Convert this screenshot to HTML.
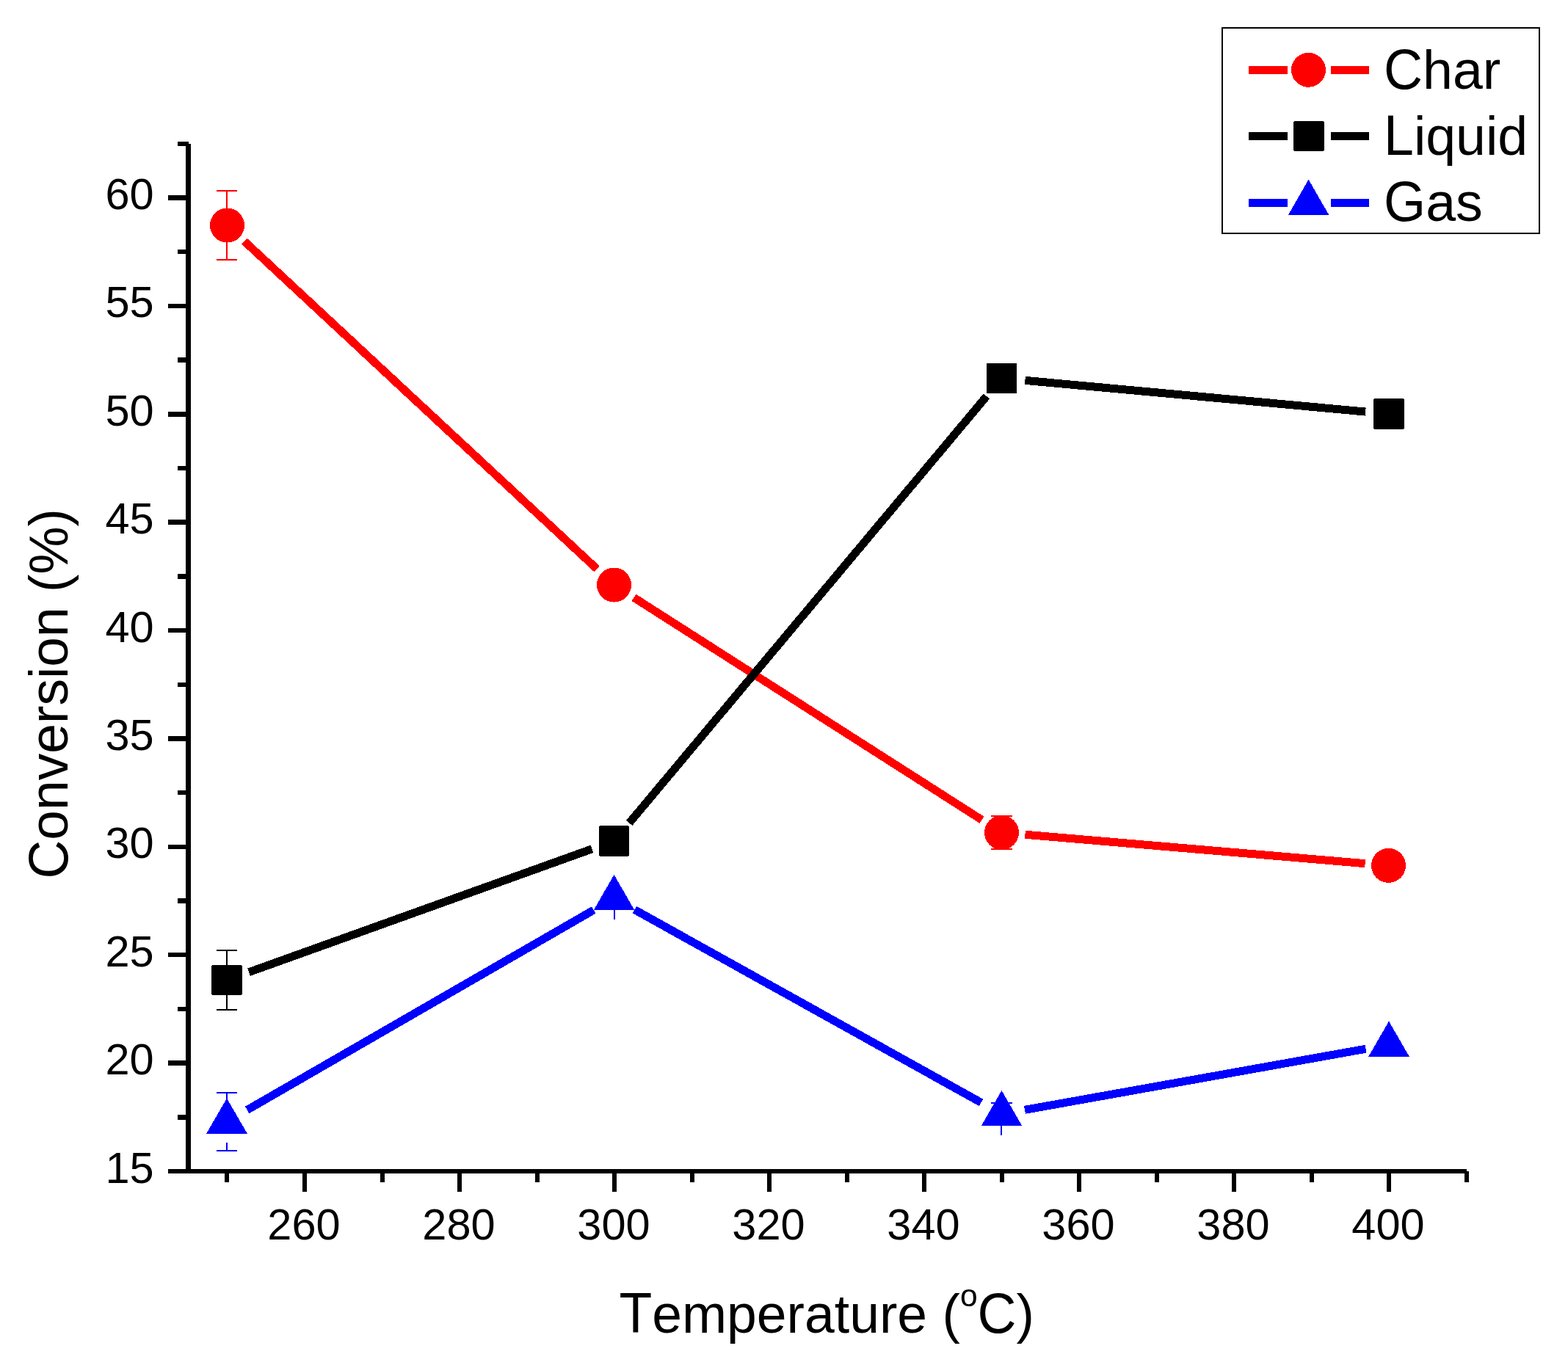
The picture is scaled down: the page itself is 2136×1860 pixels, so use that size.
<!DOCTYPE html>
<html><head><meta charset="utf-8"><style>html,body{margin:0;padding:0;background:#fff;}svg{display:block;} rect,line,polygon,circle{shape-rendering:crispEdges;} text{font-kerning:none;font-variant-ligatures:none;}</style></head>
<body>
<svg width="2136" height="1860" viewBox="0 0 2136 1860">
<rect x="0" y="0" width="2136" height="1860" fill="#fff"/>
<line x1="332.94" y1="328.79" x2="813.06" y2="775.21" stroke="#ff0000" stroke-width="11"/>
<line x1="863.46" y1="814.23" x2="1337.54" y2="1117.27" stroke="#ff0000" stroke-width="11"/>
<line x1="1396.38" y1="1137.22" x2="1859.62" y2="1176.68" stroke="#ff0000" stroke-width="11"/>
<line x1="339.12" y1="1324.68" x2="806.48" y2="1156.82" stroke="#000000" stroke-width="11"/>
<line x1="857.14" y1="1121.46" x2="1343.96" y2="539.94" stroke="#000000" stroke-width="11"/>
<line x1="1396.37" y1="518.34" x2="1860.13" y2="561.06" stroke="#000000" stroke-width="11"/>
<line x1="336.71" y1="1512.50" x2="808.79" y2="1240.00" stroke="#0000ff" stroke-width="11"/>
<line x1="864.46" y1="1239.57" x2="1336.54" y2="1502.43" stroke="#0000ff" stroke-width="11"/>
<line x1="1396.00" y1="1512.36" x2="1860.50" y2="1429.24" stroke="#0000ff" stroke-width="11"/>
<rect x="308" y="260.00" width="2" height="94.00" fill="#ff0000"/>
<rect x="295.00" y="259.00" width="28" height="2" fill="#ff0000"/>
<rect x="295.00" y="353.00" width="28" height="2" fill="#ff0000"/>
<rect x="1363" y="1112.00" width="2" height="45.00" fill="#ff0000"/>
<rect x="1350.00" y="1111.00" width="29" height="2" fill="#ff0000"/>
<rect x="1350.00" y="1156.00" width="29" height="2" fill="#ff0000"/>
<rect x="308" y="1295.00" width="2" height="81.00" fill="#000000"/>
<rect x="295.00" y="1294.00" width="28" height="2" fill="#000000"/>
<rect x="295.00" y="1375.00" width="28" height="2" fill="#000000"/>
<rect x="308" y="1489.00" width="2" height="41.00" fill="#0000ff"/>
<rect x="295.00" y="1488.00" width="28" height="2" fill="#0000ff"/>
<rect x="308" y="1557.00" width="2" height="11.00" fill="#0000ff"/>
<rect x="295.00" y="1567.00" width="28" height="2" fill="#0000ff"/>
<rect x="836" y="1230.00" width="2" height="23.00" fill="#0000ff"/>
<rect x="1363" y="1503.00" width="2" height="44.00" fill="#0000ff"/>
<rect x="1350.00" y="1502.00" width="29" height="2" fill="#0000ff"/>
<circle cx="309.5" cy="307" r="23.5" fill="#ff0000"/>
<circle cx="836.5" cy="797" r="23.5" fill="#ff0000"/>
<circle cx="1364.5" cy="1134.5" r="23.5" fill="#ff0000"/>
<circle cx="1891.5" cy="1179.4" r="23.5" fill="#ff0000"/>
<rect x="288.25" y="1314.75" width="41.5" height="41.5" rx="1.8" fill="#000000"/>
<rect x="815.85" y="1125.25" width="41.5" height="41.5" rx="1.8" fill="#000000"/>
<rect x="1343.75" y="494.65" width="41.5" height="41.5" rx="0" fill="#000000"/>
<rect x="1871.25" y="543.25" width="41.5" height="41.5" rx="1.8" fill="#000000"/>
<polygon points="309.00,1496.50 336.75,1544.50 281.25,1544.50" fill="#0000ff"/>
<polygon points="836.50,1192.00 864.25,1240.00 808.75,1240.00" fill="#0000ff"/>
<polygon points="1364.50,1486.00 1392.25,1534.00 1336.75,1534.00" fill="#0000ff"/>
<polygon points="1892.00,1391.60 1919.75,1439.60 1864.25,1439.60" fill="#0000ff"/>
<rect x="253" y="196" width="7" height="1403" fill="#000"/>
<rect x="229" y="1593" width="1769" height="6" fill="#000"/>
<rect x="229" y="1592.75" width="26" height="6.5" fill="#000"/>
<rect x="242" y="1519.06" width="13" height="6.5" fill="#000"/>
<rect x="229" y="1445.36" width="26" height="6.5" fill="#000"/>
<rect x="242" y="1371.66" width="13" height="6.5" fill="#000"/>
<rect x="229" y="1297.97" width="26" height="6.5" fill="#000"/>
<rect x="242" y="1224.28" width="13" height="6.5" fill="#000"/>
<rect x="229" y="1150.58" width="26" height="6.5" fill="#000"/>
<rect x="242" y="1076.88" width="13" height="6.5" fill="#000"/>
<rect x="229" y="1003.19" width="26" height="6.5" fill="#000"/>
<rect x="242" y="929.50" width="13" height="6.5" fill="#000"/>
<rect x="229" y="855.80" width="26" height="6.5" fill="#000"/>
<rect x="242" y="782.10" width="13" height="6.5" fill="#000"/>
<rect x="229" y="708.41" width="26" height="6.5" fill="#000"/>
<rect x="242" y="634.71" width="13" height="6.5" fill="#000"/>
<rect x="229" y="561.02" width="26" height="6.5" fill="#000"/>
<rect x="242" y="487.33" width="13" height="6.5" fill="#000"/>
<rect x="229" y="413.63" width="26" height="6.5" fill="#000"/>
<rect x="242" y="339.93" width="13" height="6.5" fill="#000"/>
<rect x="229" y="266.24" width="26" height="6.5" fill="#000"/>
<rect x="242" y="193" width="15" height="6" fill="#000"/>
<rect x="306.00" y="1596" width="6" height="15" fill="#000"/>
<rect x="412.00" y="1596" width="6" height="28" fill="#000"/>
<rect x="517.50" y="1596" width="6" height="15" fill="#000"/>
<rect x="623.00" y="1596" width="6" height="28" fill="#000"/>
<rect x="728.50" y="1596" width="6" height="15" fill="#000"/>
<rect x="834.00" y="1596" width="6" height="28" fill="#000"/>
<rect x="939.50" y="1596" width="6" height="15" fill="#000"/>
<rect x="1045.00" y="1596" width="6" height="28" fill="#000"/>
<rect x="1150.50" y="1596" width="6" height="15" fill="#000"/>
<rect x="1256.00" y="1596" width="6" height="28" fill="#000"/>
<rect x="1361.50" y="1596" width="6" height="15" fill="#000"/>
<rect x="1467.00" y="1596" width="6" height="28" fill="#000"/>
<rect x="1572.50" y="1596" width="6" height="15" fill="#000"/>
<rect x="1678.00" y="1596" width="6" height="28" fill="#000"/>
<rect x="1783.50" y="1596" width="6" height="15" fill="#000"/>
<rect x="1889.00" y="1596" width="6" height="28" fill="#000"/>
<rect x="1994.50" y="1596" width="6" height="15" fill="#000"/>
<text x="209.6" y="1611.60" font-family="Liberation Sans, Arial, sans-serif" font-size="59.5" text-anchor="end">15</text>
<text x="209.6" y="1464.21" font-family="Liberation Sans, Arial, sans-serif" font-size="59.5" text-anchor="end">20</text>
<text x="209.6" y="1316.82" font-family="Liberation Sans, Arial, sans-serif" font-size="59.5" text-anchor="end">25</text>
<text x="209.6" y="1169.43" font-family="Liberation Sans, Arial, sans-serif" font-size="59.5" text-anchor="end">30</text>
<text x="209.6" y="1022.04" font-family="Liberation Sans, Arial, sans-serif" font-size="59.5" text-anchor="end">35</text>
<text x="209.6" y="874.65" font-family="Liberation Sans, Arial, sans-serif" font-size="59.5" text-anchor="end">40</text>
<text x="209.6" y="727.26" font-family="Liberation Sans, Arial, sans-serif" font-size="59.5" text-anchor="end">45</text>
<text x="209.6" y="579.87" font-family="Liberation Sans, Arial, sans-serif" font-size="59.5" text-anchor="end">50</text>
<text x="209.6" y="432.48" font-family="Liberation Sans, Arial, sans-serif" font-size="59.5" text-anchor="end">55</text>
<text x="209.6" y="285.09" font-family="Liberation Sans, Arial, sans-serif" font-size="59.5" text-anchor="end">60</text>
<text x="414.00" y="1689.3" font-family="Liberation Sans, Arial, sans-serif" font-size="59.5" text-anchor="middle">260</text>
<text x="625.00" y="1689.3" font-family="Liberation Sans, Arial, sans-serif" font-size="59.5" text-anchor="middle">280</text>
<text x="836.00" y="1689.3" font-family="Liberation Sans, Arial, sans-serif" font-size="59.5" text-anchor="middle">300</text>
<text x="1047.00" y="1689.3" font-family="Liberation Sans, Arial, sans-serif" font-size="59.5" text-anchor="middle">320</text>
<text x="1258.00" y="1689.3" font-family="Liberation Sans, Arial, sans-serif" font-size="59.5" text-anchor="middle">340</text>
<text x="1469.00" y="1689.3" font-family="Liberation Sans, Arial, sans-serif" font-size="59.5" text-anchor="middle">360</text>
<text x="1680.00" y="1689.3" font-family="Liberation Sans, Arial, sans-serif" font-size="59.5" text-anchor="middle">380</text>
<text x="1891.00" y="1689.3" font-family="Liberation Sans, Arial, sans-serif" font-size="59.5" text-anchor="middle">400</text>
<text x="843.5" y="1816" font-family="Liberation Sans, Arial, sans-serif" font-size="73.3"><tspan font-size="76.97" textLength="44.77" lengthAdjust="spacingAndGlyphs">T</tspan>emperature (<tspan font-size="42.5" dy="-36">o</tspan><tspan font-size="76.97" textLength="52.93" lengthAdjust="spacingAndGlyphs" dy="36">C</tspan>)</text>
<text transform="translate(92,1197.5) rotate(-90)" font-family="Liberation Sans, Arial, sans-serif" font-size="73.2"><tspan font-size="76.86" textLength="52.86" lengthAdjust="spacingAndGlyphs">C</tspan>onversion (%)</text>
<rect x="1665" y="38" width="432" height="280" fill="none" stroke="#000" stroke-width="2"/>
<rect x="1701" y="89.80" width="53" height="11" fill="#ff0000"/>
<rect x="1813" y="89.80" width="52" height="11" fill="#ff0000"/>
<circle cx="1782.5" cy="95.3" r="23.5" fill="#ff0000"/>
<text x="1885" y="121" font-family="Liberation Sans, Arial, sans-serif" font-size="73.5"><tspan font-size="77.17" textLength="53.08" lengthAdjust="spacingAndGlyphs">C</tspan>har</text>
<rect x="1701" y="180.00" width="53" height="11" fill="#000000"/>
<rect x="1813" y="180.00" width="52" height="11" fill="#000000"/>
<rect x="1762.25" y="164.75" width="41.5" height="41.5" rx="1.8" fill="#000000"/>
<text x="1885" y="210.8" font-family="Liberation Sans, Arial, sans-serif" font-size="73.5"><tspan font-size="77.17" textLength="40.88" lengthAdjust="spacingAndGlyphs">L</tspan>iquid</text>
<rect x="1701" y="271.00" width="53" height="11" fill="#0000ff"/>
<rect x="1813" y="271.00" width="52" height="11" fill="#0000ff"/>
<polygon points="1782.60,244.50 1810.10,292.50 1755.10,292.50" fill="#0000ff"/>
<text x="1885" y="301" font-family="Liberation Sans, Arial, sans-serif" font-size="73.5"><tspan font-size="77.17" textLength="57.17" lengthAdjust="spacingAndGlyphs">G</tspan>as</text>
</svg>
</body></html>
